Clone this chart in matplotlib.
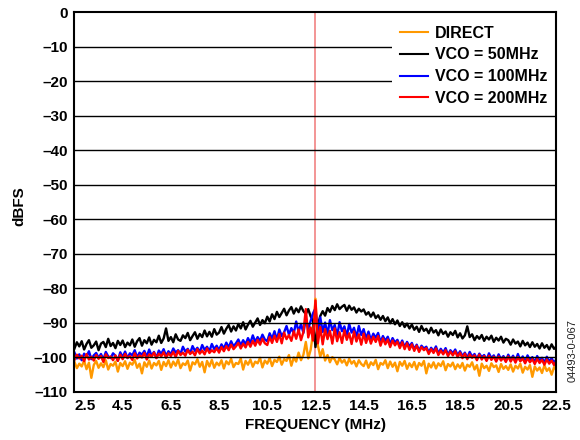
import numpy as np
import matplotlib
matplotlib.use("Agg")
import matplotlib.pyplot as plt

plt.rcParams["font.family"] = ["Liberation Sans", "DejaVu Sans"]
plt.rcParams["font.weight"] = "bold"

# FFT bins, 0.1 MHz apart, 2.5 .. 22.5 MHz
FREQ_START, FREQ_STEP = 2.5, 0.1
CARRIER_MHZ = 12.5

DIRECT = [
    -101.3, -103.1, -101.8, -102.6, -100.9, -103.4, -101.5, -105.9, -102.2, -101.0,
    -103.0, -101.7, -102.8, -100.8, -103.5, -101.9, -102.4, -101.2, -104.1, -101.6,
    -102.5, -101.1, -103.3, -101.5, -102.1, -100.7, -103.0, -101.8, -104.6, -101.4,
    -102.7, -100.9, -103.2, -101.6, -102.3, -101.0, -103.6, -101.3, -102.5, -100.8,
    -102.9, -101.2, -102.4, -100.6, -103.1, -101.7, -102.2, -100.9, -103.8, -101.4,
    -102.0, -100.5, -102.7, -101.3, -104.3, -101.0, -102.6, -100.7, -103.0, -101.5,
    -102.3, -100.8, -103.2, -101.1, -102.0, -100.4, -102.8, -101.6, -101.9, -100.3,
    -103.5, -101.0, -102.1, -100.6, -102.7, -101.2, -101.7, -100.1, -102.9, -100.9,
    -101.8, -100.2, -102.5, -100.7, -101.3, -99.8, -102.1, -100.5, -101.0, -99.3,
    -102.4, -100.0, -101.2, -98.6, -100.8, -99.2, -95.5, -100.3, -97.8, -93.0,
    -83.0, -96.5, -99.8, -97.6, -100.9, -99.3, -101.4, -99.9, -100.6, -102.0,
    -100.2, -101.5, -100.7, -102.3, -100.4, -101.8, -101.0, -102.6, -100.8, -101.9,
    -102.5, -100.9, -103.0, -101.4, -102.2, -100.7, -103.4, -101.6, -102.1, -100.8,
    -103.1, -101.2, -102.7, -101.5, -104.0, -101.3, -102.4, -101.0, -103.3, -101.7,
    -102.8, -101.3, -103.5, -101.6, -102.4, -101.0, -104.6, -101.8, -102.9, -101.4,
    -103.2, -101.7, -102.5, -101.1, -103.7, -101.9, -102.6, -101.5, -103.4, -102.0,
    -103.0, -101.6, -103.8, -102.1, -102.7, -101.4, -103.5, -102.2, -105.3, -101.8,
    -103.1, -102.4, -103.9, -101.7, -102.8, -102.3, -104.2, -101.9, -103.3, -102.5,
    -103.6, -102.0, -104.1, -102.4, -103.2, -101.8, -104.4, -102.7, -103.5, -102.2,
    -105.6, -102.6, -103.8, -102.9, -104.5, -102.3, -103.9, -103.1, -105.0, -102.8,
    -103.6,
]
VCO_50 = [
    -97.4, -95.6, -96.8, -95.3, -97.7, -96.1, -95.0, -97.2, -96.5, -95.4,
    -97.9, -96.0, -95.5, -97.0, -94.6, -96.7, -95.8, -97.3, -95.2, -96.4,
    -95.1, -97.0, -95.7, -96.5, -94.8, -96.9, -95.3, -94.4, -96.6, -95.0,
    -95.9, -94.2, -96.3, -94.9, -95.6, -93.7, -95.8, -94.5, -91.6, -95.2,
    -94.1, -95.6, -93.3, -94.8, -95.2, -93.6, -94.4, -92.9, -95.0, -93.8,
    -92.7, -94.6, -93.2, -94.1, -92.2, -93.9, -92.6, -94.0, -91.8, -93.4,
    -92.8, -91.2, -93.1, -91.7, -90.6, -92.5, -91.0, -92.2, -90.3, -91.6,
    -89.8, -91.9, -90.5, -89.4, -91.1, -89.9, -88.7, -90.6, -89.2, -90.1,
    -88.2, -89.6, -87.5, -88.9, -86.8, -88.3, -87.1, -85.9, -87.8, -86.4,
    -85.4, -87.3, -85.8, -86.9, -85.2, -86.6, -87.4, -86.0, -88.1, -89.3,
    -97.0, -90.5, -88.0, -86.6, -87.9, -85.7, -86.8, -85.1, -86.3, -84.6,
    -86.0, -85.3, -84.8, -86.5, -85.0, -86.2, -85.5, -87.0, -85.9, -86.7,
    -86.1, -87.6, -86.9, -88.2, -87.0, -88.6, -87.8, -89.1, -88.0, -89.5,
    -88.4, -90.1, -88.9, -90.4, -89.3, -90.9, -89.8, -91.2, -90.2, -91.6,
    -90.5, -92.0, -91.1, -92.6, -90.9, -92.3, -91.7, -93.0, -91.4, -92.8,
    -92.1, -93.6, -91.9, -93.2, -92.5, -94.0, -92.7, -93.5, -92.3, -94.2,
    -93.0, -94.5, -93.6, -91.0, -94.1, -93.3, -95.0, -93.8, -94.6, -93.5,
    -95.2, -94.0, -94.8, -93.7, -95.5, -94.3, -95.1, -94.0, -95.7, -94.6,
    -95.0, -96.3, -94.8, -96.0, -95.4, -96.8, -95.2, -96.5, -95.7, -97.0,
    -95.6, -96.9, -96.1, -97.4, -95.9, -97.2, -96.4, -97.7, -96.2, -97.5,
    -96.8,
]
VCO_100 = [
    -98.6, -100.3, -99.1, -100.8, -98.9, -99.8, -98.2, -100.5, -99.4, -98.7,
    -100.1, -99.0, -100.6, -98.4, -99.7, -100.2, -98.8, -99.5, -100.9, -98.5,
    -99.9, -98.3, -100.2, -98.8, -99.4, -97.9, -100.0, -98.6, -99.2, -98.1,
    -99.8, -97.7, -99.5, -98.4, -100.1, -98.0, -99.0, -97.6, -99.6, -98.2,
    -99.1, -97.4, -98.6, -97.9, -99.0, -96.9, -98.3, -97.5, -98.8, -96.7,
    -98.1, -97.2, -98.5, -96.4, -97.8, -96.9, -98.2, -96.1, -97.6, -96.6,
    -97.9, -96.2, -97.4, -95.7, -97.1, -95.3, -96.8, -95.9, -94.8, -96.5,
    -95.0, -96.2, -94.4, -95.8, -93.6, -95.5, -94.1, -95.2, -93.4, -94.8,
    -95.3, -93.0, -94.6, -92.4, -94.9, -91.9, -93.8, -92.7, -90.9, -93.4,
    -91.5, -93.0, -89.6, -92.6, -90.3, -92.9, -88.9, -91.7, -89.5, -87.2,
    -85.8, -93.0, -88.4, -92.6, -89.9, -93.3, -89.2, -92.1, -90.6, -93.7,
    -89.8, -92.4, -91.0, -93.9, -90.3, -92.8, -91.4, -94.2, -90.9, -93.5,
    -91.8, -94.6, -92.5, -95.0, -93.1, -94.3, -92.9, -95.6, -93.8, -95.2,
    -94.0, -96.1, -94.4, -95.7, -94.9, -96.6, -95.1, -97.0, -95.5, -96.8,
    -95.8, -97.6, -96.3, -98.0, -96.6, -97.4, -96.9, -98.5, -97.2, -98.2,
    -96.8, -98.9, -97.5, -98.6, -97.3, -99.2, -97.9, -98.8, -97.7, -99.4,
    -98.2, -99.6, -98.6, -100.1, -98.4, -99.8, -99.0, -100.4, -98.9, -99.9,
    -99.3, -100.7, -98.8, -100.2, -99.4, -100.8, -99.1, -100.5, -99.6, -101.0,
    -99.2, -100.6, -99.5, -101.1, -99.0, -100.9, -99.7, -101.3, -99.4, -100.8,
    -99.9, -101.4, -99.6, -101.0, -100.1, -101.5, -99.8, -101.2, -100.2, -101.6,
    -100.4,
]
VCO_200 = [
    -100.7, -99.2, -100.3, -99.5, -101.1, -99.0, -100.6, -99.8, -100.9, -99.3,
    -100.4, -99.6, -101.3, -99.1, -100.2, -99.7, -100.8, -99.4, -101.0, -99.2,
    -100.5, -99.0, -100.1, -99.6, -100.7, -98.8, -100.3, -99.4, -100.0, -98.7,
    -100.6, -99.1, -99.8, -98.6, -100.2, -98.9, -99.7, -98.5, -100.1, -98.8,
    -99.6, -98.4, -99.9, -98.1, -99.3, -98.6, -99.5, -97.8, -99.0, -98.3,
    -99.4, -97.6, -98.9, -98.0, -99.1, -97.4, -98.7, -97.9, -98.5, -97.3,
    -98.6, -97.0, -98.2, -96.7, -97.9, -96.3, -97.6, -96.8, -95.8, -97.4,
    -96.0, -97.1, -95.5, -96.9, -95.2, -96.6, -94.9, -96.3, -94.6, -95.9,
    -96.4, -94.1, -95.8, -93.7, -95.5, -93.2, -95.9, -92.8, -94.7, -93.5,
    -95.2, -92.4, -94.6, -91.9, -95.0, -92.6, -86.0, -94.2, -91.3, -95.1,
    -83.5, -95.9, -91.2, -96.2, -91.8, -94.7, -92.3, -96.0, -91.6, -95.3,
    -92.7, -95.8, -92.1, -94.9, -93.0, -96.1, -92.5, -95.4, -93.3, -96.3,
    -93.1, -95.8, -93.6, -96.0, -94.0, -95.5, -93.8, -96.6, -94.5, -96.2,
    -94.8, -97.0, -95.1, -96.5, -95.4, -97.3, -95.6, -97.6, -95.9, -97.8,
    -96.2, -98.1, -96.6, -98.4, -97.0, -97.9, -97.3, -99.0, -97.6, -98.7,
    -97.4, -99.3, -98.0, -99.1, -97.9, -99.6, -98.3, -99.4, -98.2, -99.9,
    -98.6, -100.2, -98.9, -100.5, -99.1, -100.1, -99.4, -100.8, -99.2, -100.6,
    -99.6, -101.0, -99.5, -100.7, -99.8, -101.2, -99.7, -100.9, -100.0, -101.3,
    -99.7, -101.2, -100.0, -101.5, -99.9, -101.1, -100.3, -101.7, -100.2, -101.4,
    -100.5, -101.9, -100.4, -101.6, -100.7, -102.1, -100.6, -101.8, -100.9, -102.2,
    -101.0,
]

SERIES = [("DIRECT", DIRECT, "#FF9900"),
          ("VCO = 50MHz", VCO_50, "#000000"),
          ("VCO = 100MHz", VCO_100, "#0000FF"),
          ("VCO = 200MHz", VCO_200, "#FF0000")]

X_TICKS = [2.5, 4.5, 6.5, 8.5, 10.5, 12.5, 14.5, 16.5, 18.5, 20.5, 22.5]
Y_TICKS = list(range(0, -120, -10))

fig = plt.figure(figsize=(5.8, 4.4), dpi=100)
ax = fig.add_axes([0.1284, 0.1091, 0.831, 0.8636])

freq = FREQ_START + FREQ_STEP * np.arange(len(DIRECT))
ax.axvline(CARRIER_MHZ, color="#F28C8C", lw=1.3, zorder=1)
for name, vals, col in SERIES:
    ax.plot(freq, vals, color=col, lw=1.7, label=name, zorder=2)

ax.set_xlim(2.5, 22.5)
ax.set_ylim(-110, 0)
ax.set_xticks(X_TICKS)
ax.set_xticklabels([f"{t:.1f}" for t in X_TICKS])
ax.get_xticklabels()[0].set_horizontalalignment("left")
ax.set_yticks(Y_TICKS)
ax.set_yticklabels([str(t).replace("-", "\u2013") for t in Y_TICKS])
ax.tick_params(length=0, labelsize=11, pad=5)
for y in Y_TICKS[1:-1]:
    ax.axhline(y, color="black", lw=1.0, zorder=3)
for s in ax.spines.values():
    s.set_linewidth(1.5)
    s.set_zorder(6)

ax.set_xlabel("FREQUENCY (MHz)", fontsize=11, fontweight="bold")
ax.set_ylabel("dBFS", fontsize=11, fontweight="bold")
ax.xaxis.set_label_coords(0.5, -0.068)
ax.yaxis.set_label_coords(-0.100, 0.49)

leg = ax.legend(loc="upper right", bbox_to_anchor=(0.997, 0.985), fontsize=11.5,
                frameon=True, fancybox=False, edgecolor="none", facecolor="white",
                framealpha=1, handlelength=1.75, handletextpad=0.4,
                labelspacing=0.42, borderpad=0.5, borderaxespad=0)
leg.set_zorder(5)
for t in leg.get_texts():
    t.set_fontweight("bold")
for h in leg.legend_handles:
    h.set_linewidth(1.5)

fig.text(0.987, 0.132, "04493-0-067", rotation=90, fontsize=8,
         fontweight="normal", ha="center", va="bottom", color="#222222")

fig.savefig("out.png", dpi=100)
